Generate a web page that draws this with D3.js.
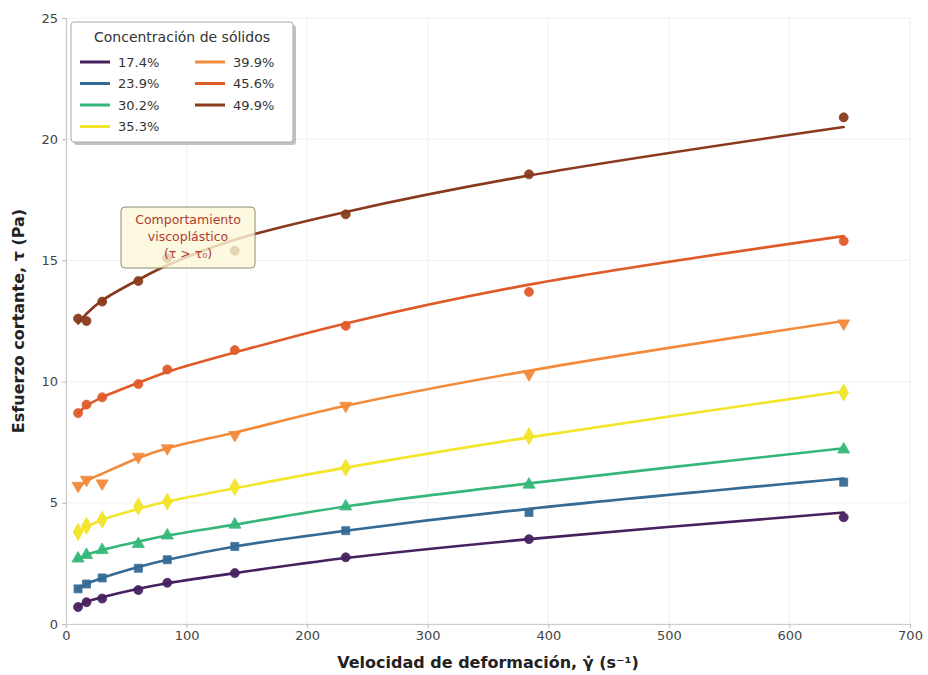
<!DOCTYPE html>
<html>
<head>
<meta charset="utf-8">
<script src="https://cdn.jsdelivr.net/npm/d3@7"></script>
<style>
  html, body { margin: 0; padding: 0; background: #fff; }
  svg { display: block; font-family: "DejaVu Sans", sans-serif; }
</style>
</head>
<body>
<svg id="chart" width="928" height="675"></svg>
<script>
// ---- data ----
const shearRates = [10, 17, 30, 60, 84, 140, 232, 384, 645];
const seriesNames = ["17.4%", "23.9%", "30.2%", "35.3%", "39.9%", "45.6%", "49.9%"];
const seriesColors = ["#46205f", "#356a94", "#35b779", "#f2e52a", "#f38a3a", "#e05a28", "#8a3a1c"];
const seriesSymbols = ["circle", "square", "triangle", "diamond", "triangleDown", "circle", "circle"];

const measured174 = [0.7, 0.9, 1.05, 1.4, 1.7, 2.1, 2.75, 3.5, 4.4];
const measured239 = [1.45, 1.65, 1.9, 2.3, 2.65, 3.2, 3.85, 4.6, 5.85];
const measured302 = [2.7, 2.85, 3.05, 3.3, 3.65, 4.1, 4.85, 5.75, 7.2];
const measured353 = [3.8, 4.05, 4.3, 4.85, 5.05, 5.65, 6.45, 7.75, 9.55];
const measured399 = [5.7, 5.95, 5.8, 6.9, 7.25, 7.8, 9.0, 10.3, 12.4];
const measured456 = [8.7, 9.05, 9.35, 9.9, 10.5, 11.3, 12.3, 13.7, 15.8];
const measured499 = [12.6, 12.5, 13.3, 14.15, 15.1, 15.4, 16.9, 18.55, 20.9];

// fitted model curves at the same shear rates
const fitted174 = [0.72, 0.92, 1.1, 1.45, 1.68, 2.1, 2.72, 3.5, 4.6];
const fitted239 = [1.45, 1.65, 1.9, 2.35, 2.65, 3.2, 3.85, 4.75, 6.0];
const fitted302 = [2.65, 2.85, 3.05, 3.4, 3.65, 4.1, 4.85, 5.8, 7.25];
const fitted353 = [3.8, 4.0, 4.3, 4.75, 5.05, 5.6, 6.45, 7.7, 9.6];
const fitted399 = [5.6, 5.9, 6.2, 6.85, 7.25, 7.9, 9.0, 10.45, 12.5];
const fitted456 = [8.7, 9.0, 9.35, 9.95, 10.4, 11.2, 12.4, 14.0, 16.0];
const fitted499 = [12.4, 12.8, 13.35, 14.2, 14.8, 15.85, 17.0, 18.5, 20.5];

const xTicks = [0, 100, 200, 300, 400, 500, 600, 700];
const yTicks = [0, 5, 10, 15, 20, 25];

const measured = [measured174, measured239, measured302, measured353, measured399, measured456, measured499];
const fitted = [fitted174, fitted239, fitted302, fitted353, fitted399, fitted456, fitted499];

// ---- layout ----
const W = 928, H = 675;
const margin = {left: 66, top: 18, right: 18, bottom: 51};
const iw = W - margin.left - margin.right;
const ih = H - margin.top - margin.bottom;

const svg = d3.select("#chart");
const g = svg.append("g").attr("transform", `translate(${margin.left},${margin.top})`);

const x = d3.scaleLinear().domain([0, 700]).range([0, iw]);
const y = d3.scaleLinear().domain([0, 25]).range([ih, 0]);

// grid
g.append("g").selectAll("line.gx").data(xTicks).join("line")
  .attr("x1", d => x(d)).attr("x2", d => x(d)).attr("y1", 0).attr("y2", ih)
  .attr("stroke", "#f0f0f0").attr("stroke-width", 1);
g.append("g").selectAll("line.gy").data(yTicks).join("line")
  .attr("x1", 0).attr("x2", iw).attr("y1", d => y(d)).attr("y2", d => y(d))
  .attr("stroke", "#f0f0f0").attr("stroke-width", 1);

// axes
const xAxis = g.append("g").attr("transform", `translate(0,${ih})`)
  .call(d3.axisBottom(x).tickValues(xTicks).tickSize(4).tickPadding(3));
const yAxis = g.append("g")
  .call(d3.axisLeft(y).tickValues(yTicks).tickSize(4).tickPadding(4));
[xAxis, yAxis].forEach(a => {
  a.select(".domain").attr("stroke", "#cccccc").attr("stroke-width", 1.2);
  a.selectAll(".tick line").attr("stroke", "#bbbbbb");
  a.selectAll(".tick text").attr("fill", "#444").attr("font-size", 13)
    .attr("font-family", "DejaVu Sans, sans-serif");
});

// curves
const line = d3.line()
  .x((d, i) => x(shearRates[i]))
  .y(d => y(d))
  .curve(d3.curveCatmullRom.alpha(0.5));

fitted.forEach((vals, k) => {
  g.append("path").datum(vals)
    .attr("d", line)
    .attr("fill", "none")
    .attr("stroke", seriesColors[k])
    .attr("stroke-width", 2.6)
    .attr("stroke-linecap", "round");
});

// markers
const symMap = {
  circle: d3.symbolCircle, square: d3.symbolSquare, triangle: d3.symbolTriangle,
  diamond: d3.symbolDiamond, triangleDown: d3.symbolTriangle
};
measured.forEach((vals, k) => {
  const s = seriesSymbols[k];
  const sym = d3.symbol().type(symMap[s]).size(s === "diamond" ? 85 : 64);
  g.append("g").selectAll("path").data(vals).join("path")
    .attr("d", sym)
    .attr("transform", (d, i) => `translate(${x(shearRates[i])},${y(d)})` + (s === "triangleDown" ? " rotate(180)" : ""))
    .attr("fill", seriesColors[k])
    .attr("stroke", seriesColors[k])
    .attr("stroke-width", 0.8)
    .attr("opacity", 0.95);
});

// annotation
const ann = svg.append("g");
ann.append("rect")
  .attr("x", 121).attr("y", 207).attr("width", 134).attr("height", 61)
  .attr("rx", 4).attr("ry", 4)
  .attr("fill", "#fdf8d8").attr("fill-opacity", 0.8)
  .attr("stroke", "#8a8f6e").attr("stroke-width", 1);
const annLines = ["Comportamiento", "viscoplástico", "(τ > τ₀)"];
ann.selectAll("text").data(annLines).join("text")
  .attr("x", 188).attr("y", (d, i) => 224 + i * 17)
  .attr("text-anchor", "middle")
  .attr("font-size", 12.5)
  .attr("fill", "#b03a2e")
  .text(d => d);

// axis titles
svg.append("text")
  .attr("x", margin.left + iw / 2).attr("y", 668)
  .attr("text-anchor", "middle").attr("font-size", 16).attr("font-weight", "bold")
  .attr("fill", "#222")
  .text("Velocidad de deformación, γ̇ (s⁻¹)");
svg.append("text")
  .attr("transform", `translate(24,${margin.top + ih / 2}) rotate(-90)`)
  .attr("text-anchor", "middle").attr("font-size", 16).attr("font-weight", "bold")
  .attr("fill", "#222")
  .text("Esfuerzo cortante, τ (Pa)");

// legend
const lg = svg.append("g");
lg.append("rect").attr("x", 74).attr("y", 25).attr("width", 222).attr("height", 120)
  .attr("rx", 3).attr("fill", "#999").attr("opacity", 0.6);
lg.append("rect").attr("x", 71).attr("y", 22).attr("width", 222).attr("height", 120)
  .attr("rx", 3).attr("fill", "#fff").attr("stroke", "#aaa").attr("stroke-width", 1);
lg.append("text").attr("x", 182).attr("y", 42).attr("text-anchor", "middle")
  .attr("font-size", 14).attr("fill", "#333").text("Concentración de sólidos");
seriesNames.forEach((name, k) => {
  const col = k < 4 ? 0 : 1;
  const row = k < 4 ? k : k - 4;
  const x0 = col === 0 ? 80 : 195;
  const yy = 62 + row * 21.5;
  lg.append("line").attr("x1", x0).attr("x2", x0 + 30).attr("y1", yy).attr("y2", yy)
    .attr("stroke", seriesColors[k]).attr("stroke-width", 3);
  lg.append("text").attr("x", x0 + 38).attr("y", yy + 4.5)
    .attr("font-size", 13).attr("fill", "#333").text(name);
});
</script>
</body>
</html>
